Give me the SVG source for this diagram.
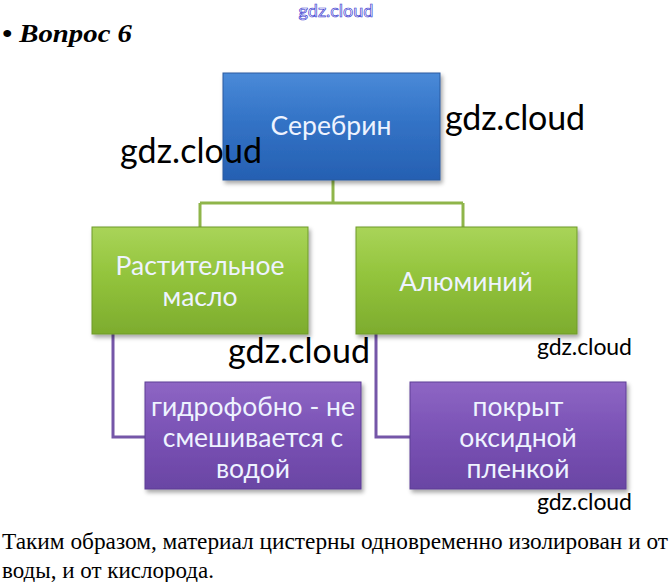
<svg xmlns="http://www.w3.org/2000/svg" width="672" height="582" viewBox="0 0 672 582">
<style>
.box-t{font-family:Lato,"Open Sans","Noto Sans",sans-serif;font-size:26.5px;fill:#eef3ff;text-anchor:middle}
.wm{font-family:Lato,"Open Sans",sans-serif;fill:#000}
.serif{font-family:"Liberation Serif","Times New Roman",serif;fill:#000}
.conn-g{fill:none;stroke:#8fb54a;stroke-width:3}
.conn-p{fill:none;stroke:#7556a8;stroke-width:3}
</style>
<defs>
<linearGradient id="gb" x1="0" y1="0" x2="0" y2="1">
<stop offset="0" stop-color="#4a8ad8"/><stop offset="0.45" stop-color="#3373c6"/><stop offset="1" stop-color="#2660b2"/>
</linearGradient>
<linearGradient id="gg" x1="0" y1="0" x2="0" y2="1">
<stop offset="0" stop-color="#a9d459"/><stop offset="0.45" stop-color="#93c43c"/><stop offset="1" stop-color="#7dac2e"/>
</linearGradient>
<linearGradient id="gp" x1="0" y1="0" x2="0" y2="1">
<stop offset="0" stop-color="#8e66c4"/><stop offset="0.45" stop-color="#7b53b6"/><stop offset="1" stop-color="#6a45a4"/>
</linearGradient>
<filter id="sh" x="-10%" y="-10%" width="125%" height="130%">
<feDropShadow dx="2" dy="3" stdDeviation="2" flood-color="#000" flood-opacity="0.35"/>
</filter>
</defs>
<rect width="672" height="582" fill="#fff"/>
<text x="336" y="17" text-anchor="middle" style="font-family:Lato,sans-serif;font-size:18px;fill:#fff;stroke:#3a3ad0;stroke-width:0.7">gdz.cloud</text>
<text x="2" y="42" class="serif" style="font-size:26px;font-weight:bold;font-style:italic" textLength="130" lengthAdjust="spacingAndGlyphs">• Вопрос 6</text>
<g id="connectors">
<path class="conn-g" d="M333 180V203M200 203H463M200 203V228M463 203V228"/>
<path class="conn-p" d="M113 334V437H146M376 334V437H411"/>
</g>
<g id="n-serebrin">
<rect x="223" y="73" width="217" height="107" fill="url(#gb)" stroke="#2a5aa0" filter="url(#sh)"/>
<text class="box-t" x="331" y="135">Серебрин</text>
</g>
<g id="n-oil">
<rect x="92" y="227" width="216" height="107" fill="url(#gg)" stroke="#6f9a2a" filter="url(#sh)"/>
<text class="box-t" x="200" y="275">Растительное</text>
<text class="box-t" x="200" y="306">масло</text>
</g>
<g id="n-al">
<rect x="356" y="227" width="221" height="107" fill="url(#gg)" stroke="#6f9a2a" filter="url(#sh)"/>
<text class="box-t" x="466" y="291">Алюминий</text>
</g>
<g id="n-hydro">
<rect x="145" y="382" width="216" height="107" fill="url(#gp)" stroke="#5e3f96" filter="url(#sh)"/>
<text class="box-t" x="253" y="416">гидрофобно - не</text>
<text class="box-t" x="253" y="447">смешивается с</text>
<text class="box-t" x="253" y="478">водой</text>
</g>
<g id="n-oxide">
<rect x="410" y="382" width="216" height="107" fill="url(#gp)" stroke="#5e3f96" filter="url(#sh)"/>
<text class="box-t" x="518" y="416">покрыт</text>
<text class="box-t" x="518" y="447">оксидной</text>
<text class="box-t" x="518" y="478">пленкой</text>
</g>
<text class="wm" x="445" y="130" style="font-size:34px" textLength="140">gdz.cloud</text>
<text class="wm" x="120" y="163" style="font-size:34px" textLength="142">gdz.cloud</text>
<text class="wm" x="228" y="363" style="font-size:34px" textLength="142">gdz.cloud</text>
<text class="wm" x="537" y="355" style="font-size:23px" textLength="95">gdz.cloud</text>
<text class="wm" x="537" y="510" style="font-size:23px" textLength="95">gdz.cloud</text>
<text class="serif" x="2" y="549" style="font-size:23px" textLength="666" lengthAdjust="spacingAndGlyphs">Таким образом, материал цистерны одновременно изолирован и от</text>
<text class="serif" x="2" y="578" style="font-size:23px" textLength="212" lengthAdjust="spacingAndGlyphs">воды, и от кислорода.</text>
</svg>
